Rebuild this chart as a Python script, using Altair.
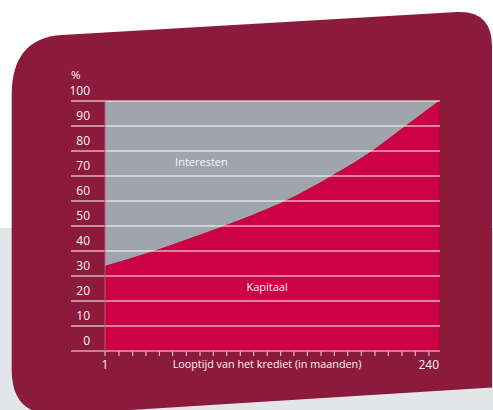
import altair as alt
import pandas as pd

# ---- data ----
months = [1, 36, 69, 107, 131, 164, 192, 216, 240]
kapitaal = [34, 40, 46.5, 54.5, 60.3, 70.3, 80, 90, 100]

y_values = [0, 10, 20, 30, 40, 50, 60, 70, 80, 90, 100]
y_labels = ["0", "10", "20", "30", "40", "50", "60", "70", "80", "90", "100"]
grid_values = [10, 20, 30, 40, 50, 60, 70, 80, 90, 100]
x_tick_months = [1, 11.0, 20.8, 30.3, 39.9, 49.4, 59.2, 69.0, 78.5, 88.1, 97.8, 107.4,
                 117.1, 126.7, 136.2, 145.8, 155.6, 165.1, 174.7, 184.4, 194.2, 203.7,
                 213.5, 223.0, 232.8]
x_first_label = ["1"]
x_last_label = ["240"]
x_title = "Looptijd van het krediet (in maanden)"
area_labels = ["Interesten", "Kapitaal"]
area_label_month = [70, 117]
area_label_pct = [75.2, 25.1]

# ---- styles ----
MAROON = "#8b1a3c"
RED = "#cc0044"
GREY = "#a0a4ac"
LIGHT = "#e3e6e9"
TXT = "#fbf5f7"
FONT = "Open Sans"
W, H = 334, 250
PL, PT = 105, 101

BG_PATH = ("M 11.7 95 Q 11.7 38 62 35 L 457 12.1 Q 492 10.2 492 47 "
           "L 492 387.4 L 60 414.4 Q 11.7 417.4 11.7 370 Z")

xs = alt.Scale(domain=[1, 240], nice=False, zero=False)
ys = alt.Scale(domain=[0, 100], nice=False)

one = pd.DataFrame({"a": [0]})
curve = pd.DataFrame({"maand": months, "kapitaal": kapitaal, "top": [100] * len(months)})
ylab = pd.DataFrame({"v": y_values, "label": y_labels})
grid = pd.DataFrame({"v": grid_values})
base0 = pd.DataFrame({"v": [0]})
ticks = pd.DataFrame({"m": x_tick_months})
ann = pd.DataFrame({"maand": area_label_month, "pct": area_label_pct, "t": area_labels})

band = alt.Chart(one).mark_rect(color=LIGHT).encode(
    x=alt.value(-PL), x2=alt.value(493 - PL), y=alt.value(228 - PT), y2=alt.value(410 - PT))

shape = alt.Chart(one).mark_point(shape=BG_PATH, size=4, filled=True, color=MAROON,
                                  opacity=1, strokeWidth=0).encode(
    x=alt.value(-PL), y=alt.value(-PT))

interest = alt.Chart(curve).mark_area(color=GREY, interpolate="monotone").encode(
    x=alt.X("maand:Q", scale=xs, axis=None),
    y=alt.Y("kapitaal:Q", scale=ys, axis=None),
    y2="top:Q")

capital = alt.Chart(curve).mark_area(color=RED, interpolate="monotone").encode(
    x=alt.X("maand:Q", scale=xs, axis=None),
    y=alt.Y("kapitaal:Q", scale=ys, axis=None))

gridlines = alt.Chart(grid).mark_rule(color="white", strokeWidth=1.2).encode(
    y=alt.Y("v:Q", scale=ys, axis=None), x=alt.value(-34), x2=alt.value(W + 1))

baseline = alt.Chart(base0).mark_rule(color="#d9a3b3", strokeWidth=1.5).encode(
    y=alt.Y("v:Q", scale=ys, axis=None), x=alt.value(-34), x2=alt.value(W + 1))

leftline = alt.Chart(pd.DataFrame({"m": [1]})).mark_rule(color="#c4557a", strokeWidth=1).encode(
    x=alt.X("m:Q", scale=xs, axis=None), y=alt.value(0), y2=alt.value(H))

tickmarks = alt.Chart(ticks).mark_rule(color="#f0d4dc", strokeWidth=1).encode(
    x=alt.X("m:Q", scale=xs, axis=None), y=alt.value(H + 0.5), y2=alt.value(H + 5))

ylabels = alt.Chart(ylab).mark_text(align="right", baseline="middle", dy=-10, color=TXT,
                                    fontSize=12, font=FONT).encode(
    y=alt.Y("v:Q", scale=ys, axis=None), x=alt.value(-15), text="label:N")

pct = alt.Chart(one).mark_text(text="%", align="left", baseline="middle", color=TXT,
                               fontSize=11.5, font=FONT).encode(
    x=alt.value(-34), y=alt.value(75.7 - PT))

annot = alt.Chart(ann).mark_text(color=TXT, fontSize=11, font=FONT, baseline="middle").encode(
    x=alt.X("maand:Q", scale=xs, axis=None), y=alt.Y("pct:Q", scale=ys, axis=None), text="t:N")

xl1 = alt.Chart(pd.DataFrame({"m": [1], "t": x_first_label})).mark_text(
    align="center", baseline="middle", color=TXT, fontSize=12, font=FONT).encode(
    x=alt.X("m:Q", scale=xs, axis=None), y=alt.value(365 - PT), text="t:N")

xl2 = alt.Chart(pd.DataFrame({"m": [240], "t": x_last_label})).mark_text(
    align="right", baseline="middle", color=TXT, fontSize=12, font=FONT).encode(
    x=alt.X("m:Q", scale=xs, axis=None), y=alt.value(365 - PT), text="t:N")

xt = alt.Chart(pd.DataFrame({"t": [x_title]})).mark_text(
    align="center", baseline="middle", color=TXT, fontSize=10.8, font=FONT).encode(
    x=alt.value(267 - PL), y=alt.value(365 - PT), text="t:N")

chart = alt.layer(
    band, shape, interest, capital, gridlines, baseline, leftline, tickmarks,
    ylabels, pct, annot, xl1, xl2, xt
).properties(
    width=W, height=H,
    padding={"left": PL, "top": PT, "right": 493 - PL - W, "bottom": 410 - PT - H},
    autosize=alt.AutoSizeParams(type="none"),
    background="white",
).configure_view(stroke=None)

chart.save("out.html", embed_options={"renderer": "svg", "actions": False})
